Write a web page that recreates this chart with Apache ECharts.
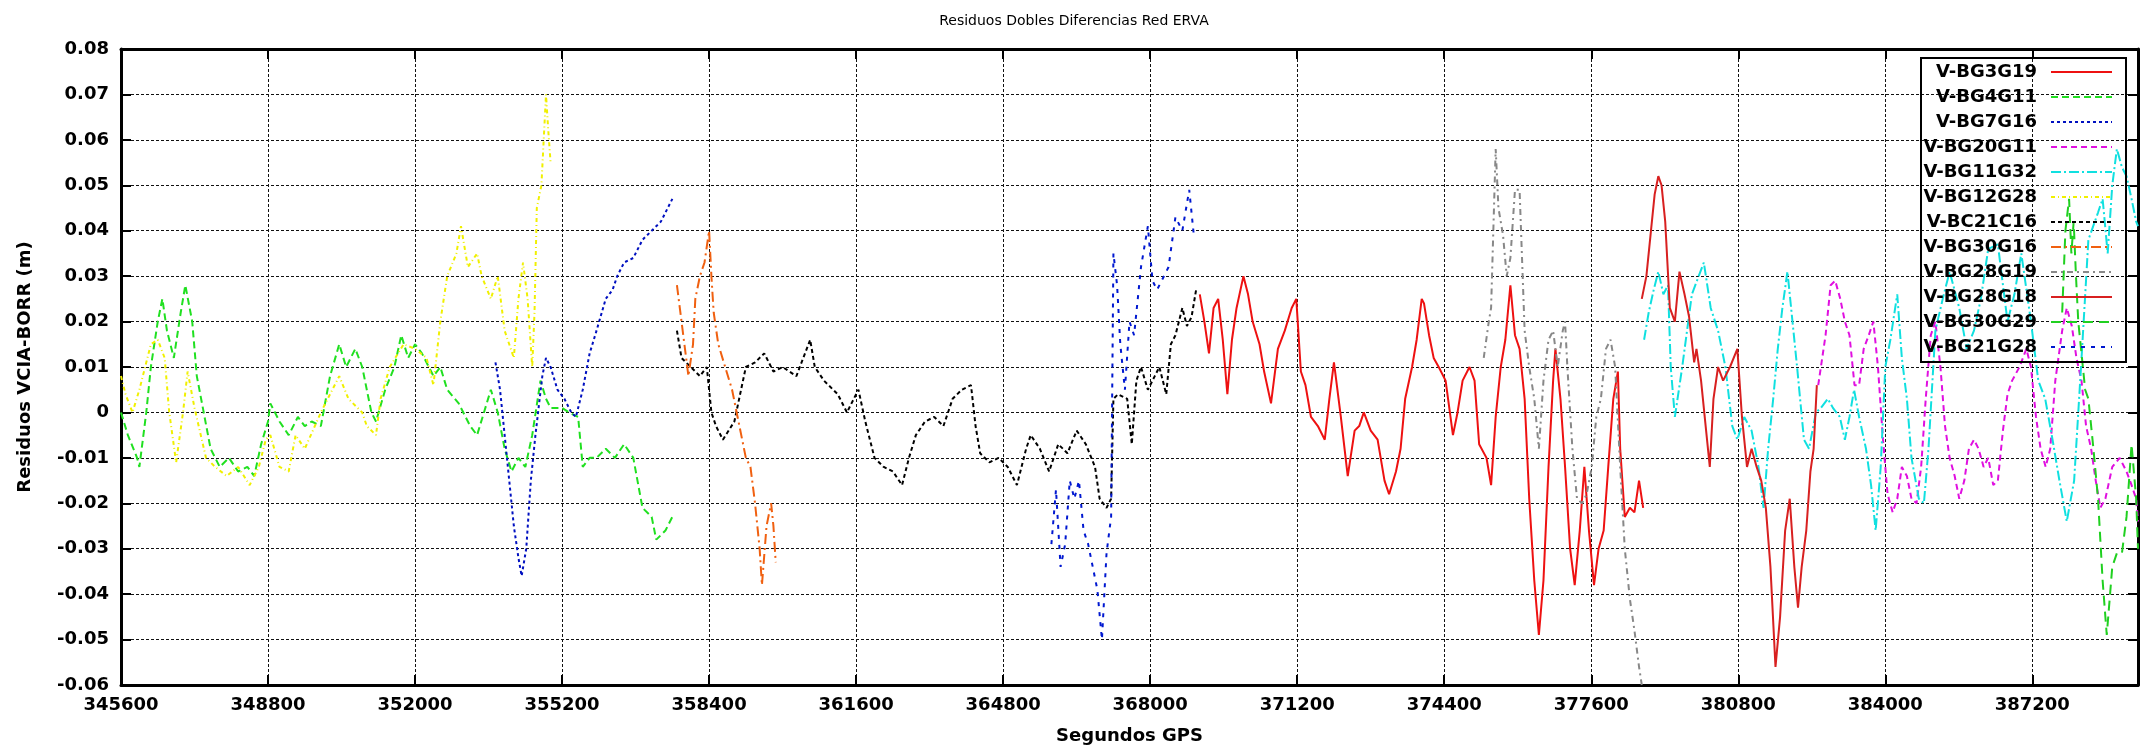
<!DOCTYPE html>
<html>
<head>
<meta charset="utf-8">
<title>Residuos Dobles Diferencias Red ERVA</title>
<script src="https://cdn.jsdelivr.net/npm/echarts/dist/echarts.min.js"></script>
<style>
	html, body { margin: 0; padding: 0; background: #fff; }
	#chart { width: 2148px; height: 753px; }
</style>
</head>
<body>
<div id="chart"></div>
<script>
//ejes
var xTicks = [345600, 348800, 352000, 355200, 358400, 361600, 364800, 368000, 371200, 374400, 377600, 380800, 384000, 387200];
var xMin = 345600, xMax = 389500, xStep = 3200;
var yMin = -0.06, yMax = 0.08, yStep = 0.01;

//nombres de las dobles diferencias (leyenda)
var names = ['V-BG3G19', 'V-BG4G11', 'V-BG7G16', 'V-BG20G11', 'V-BG11G32', 'V-BG12G28',
	'V-BC21C16', 'V-BG30G16', 'V-BG28G19', 'V-BG28G18', 'V-BG30G29', 'V-BG21G28'];

//residuos [segundos GPS, m]
var bg3g19 = [[369080,0.026],[369180,0.020],[369280,0.013],[369380,0.023],[369480,0.025],[369580,0.016],[369680,0.004],[369780,0.016],[369880,0.023],[370030,0.030],[370130,0.026],[370230,0.020],[370380,0.015],[370480,0.009],[370630,0.002],[370780,0.014],[370930,0.018],[371080,0.023],[371180,0.025],[371280,0.009],[371380,0.006],[371500,-0.001],[371650,-0.003],[371800,-0.006],[371900,0.003],[372000,0.011],[372150,-0.001],[372300,-0.014],[372450,-0.004],[372550,-0.003],[372650,0.0],[372800,-0.004],[372950,-0.006],[373100,-0.015],[373200,-0.018],[373350,-0.013],[373450,-0.008],[373550,0.003],[373700,0.010],[373800,0.016],[373910,0.025],[373960,0.024],[374070,0.017],[374170,0.012],[374280,0.010],[374430,0.007],[374590,-0.005],[374690,0.0],[374800,0.007],[374950,0.010],[375060,0.007],[375160,-0.007],[375320,-0.010],[375420,-0.016],[375520,-0.001],[375630,0.010],[375730,0.016],[375840,0.028],[375940,0.017],[376040,0.014],[376150,0.003],[376250,-0.019],[376360,-0.037],[376460,-0.049],[376560,-0.037],[376670,-0.012],[376770,0.007],[376820,0.014],[376930,0.003],[377030,-0.012],[377140,-0.030],[377240,-0.038],[377350,-0.026],[377450,-0.012],[377550,-0.026],[377660,-0.038],[377760,-0.030],[377870,-0.026],[377970,-0.012],[378080,0.003],[378180,0.009],[378230,-0.008],[378330,-0.023],[378440,-0.021],[378540,-0.022],[378640,-0.015],[378730,-0.021]];
var bg4g11 = [[345600,0.0],[345750,-0.005],[345950,-0.010],[346000,-0.012],[346150,0.0],[346250,0.010],[346400,0.020],[346500,0.025],[346600,0.018],[346750,0.012],[346900,0.022],[347000,0.028],[347150,0.020],[347250,0.008],[347400,0.0],[347550,-0.008],[347750,-0.012],[347950,-0.010],[348150,-0.013],[348350,-0.012],[348500,-0.014],[348650,-0.007],[348800,-0.002],[348850,0.002],[349050,-0.002],[349250,-0.005],[349450,-0.001],[349600,-0.003],[349750,-0.002],[349950,-0.003],[350150,0.008],[350350,0.015],[350500,0.010],[350700,0.014],[350850,0.010],[351050,0.0],[351150,-0.002],[351350,0.005],[351550,0.010],[351700,0.017],[351850,0.012],[352000,0.015],[352150,0.013],[352400,0.008],[352550,0.010],[352700,0.005],[352950,0.002],[353200,-0.003],[353350,-0.005],[353500,0.0],[353650,0.005],[353800,0.0],[353950,-0.008],[354100,-0.013],[354250,-0.010],[354400,-0.012],[354550,-0.005],[354730,0.007],[354850,0.003],[354950,0.001],[355200,0.001],[355350,0.0],[355550,-0.001],[355650,-0.012],[355800,-0.010],[355950,-0.010],[356150,-0.008],[356350,-0.010],[356550,-0.007],[356750,-0.010],[356950,-0.021],[357150,-0.023],[357250,-0.028],[357450,-0.026],[357600,-0.023]];
var bg7g16 = [[353750,0.011],[353850,0.005],[353950,-0.005],[354050,-0.015],[354150,-0.025],[354250,-0.032],[354320,-0.036],[354420,-0.030],[354520,-0.015],[354620,-0.005],[354770,0.008],[354850,0.012],[354950,0.010],[355100,0.005],[355250,0.003],[355400,0.0],[355500,-0.001],[355650,0.005],[355800,0.013],[355950,0.018],[356150,0.025],[356300,0.027],[356400,0.030],[356550,0.033],[356750,0.034],[356950,0.038],[357150,0.040],[357350,0.042],[357500,0.045],[357600,0.047]];
var bg20g11 = [[382540,0.006],[382700,0.017],[382810,0.028],[382910,0.029],[383020,0.025],[383120,0.020],[383220,0.017],[383330,0.006],[383430,0.006],[383530,0.014],[383640,0.017],[383740,0.020],[383840,0.010],[383950,-0.006],[384050,-0.018],[384160,-0.022],[384260,-0.019],[384360,-0.012],[384470,-0.014],[384570,-0.019],[384680,-0.020],[384780,-0.012],[384880,0.003],[384990,0.017],[385090,0.020],[385200,0.010],[385300,-0.003],[385400,-0.010],[385510,-0.014],[385610,-0.019],[385720,-0.015],[385820,-0.008],[385930,-0.006],[386030,-0.008],[386140,-0.012],[386240,-0.010],[386350,-0.016],[386450,-0.015],[386560,-0.004],[386660,0.004],[386760,0.007],[386920,0.010],[387070,0.014],[387170,0.010],[387280,-0.001],[387380,-0.008],[387490,-0.012],[387590,-0.008],[387700,0.007],[387850,0.018],[387950,0.023],[388060,0.019],[388160,0.012],[388270,0.007],[388370,-0.003],[388480,-0.008],[388580,-0.015],[388680,-0.021],[388790,-0.019],[388940,-0.012],[389100,-0.010],[389250,-0.013],[389360,-0.016],[389460,-0.019],[389500,-0.024]];
var bg11g32 = [[378750,0.016],[378850,0.022],[378960,0.027],[379060,0.031],[379170,0.026],[379270,0.028],[379330,0.010],[379420,-0.001],[379580,0.010],[379790,0.026],[380050,0.033],[380200,0.023],[380360,0.018],[380520,0.010],[380670,-0.003],[380780,-0.006],[380930,-0.001],[381090,-0.004],[381240,-0.012],[381350,-0.021],[381450,-0.008],[381560,0.003],[381660,0.014],[381760,0.023],[381870,0.031],[381970,0.021],[382080,0.010],[382230,-0.006],[382340,-0.008],[382490,0.0],[382600,0.001],[382750,0.003],[382860,0.001],[383010,-0.001],[383120,-0.006],[383220,-0.001],[383320,0.005],[383430,-0.001],[383580,-0.008],[383690,-0.016],[383790,-0.026],[383900,-0.012],[384000,0.010],[384110,0.016],[384260,0.026],[384360,0.012],[384470,0.003],[384570,-0.010],[384730,-0.019],[384840,-0.020],[384940,-0.008],[385090,0.018],[385250,0.025],[385400,0.031],[385610,0.023],[385770,0.014],[385930,0.018],[386080,0.025],[386240,0.036],[386450,0.037],[386660,0.020],[386810,0.026],[386960,0.035],[387170,0.020],[387330,0.007],[387480,0.003],[387640,-0.006],[387790,-0.015],[387950,-0.024],[388110,-0.015],[388260,0.010],[388420,0.038],[388630,0.044],[388730,0.047],[388840,0.035],[388940,0.050],[389040,0.058],[389150,0.054],[389250,0.052],[389360,0.047],[389460,0.042],[389500,0.041]];
var bg12g28 = [[345600,0.008],[345700,0.004],[345850,0.0],[346000,0.005],[346250,0.015],[346400,0.016],[346550,0.012],[346650,0.0],[346800,-0.011],[346950,0.0],[347050,0.009],[347200,0.001],[347450,-0.010],[347650,-0.012],[347900,-0.014],[348150,-0.012],[348400,-0.016],[348600,-0.012],[348750,-0.006],[348850,-0.005],[349050,-0.012],[349250,-0.013],[349400,-0.005],[349600,-0.008],[349950,0.0],[350200,0.005],[350350,0.008],[350550,0.003],[350850,0.0],[350950,-0.003],[351150,-0.005],[351250,0.003],[351450,0.010],[351750,0.015],[352000,0.014],[352250,0.012],[352400,0.006],[352550,0.020],[352700,0.030],[352900,0.035],[353000,0.041],[353150,0.032],[353350,0.035],[353450,0.030],[353650,0.025],[353800,0.030],[353950,0.018],[354150,0.012],[354250,0.025],[354350,0.033],[354450,0.025],[354550,0.010],[354600,0.022],[354650,0.045],[354750,0.050],[354850,0.070],[354900,0.062],[354950,0.055]];
var bg21g16 = [[357700,0.018],[357800,0.012],[358000,0.010],[358200,0.008],[358350,0.010],[358450,0.0],[358550,-0.003],[358700,-0.006],[358950,-0.002],[359200,0.010],[359400,0.011],[359600,0.013],[359800,0.009],[360000,0.010],[360300,0.008],[360600,0.016],[360700,0.010],[360900,0.007],[361200,0.004],[361400,0.0],[361650,0.005],[361800,-0.002],[362000,-0.010],[362200,-0.012],[362400,-0.013],[362600,-0.016],[362750,-0.010],[362900,-0.005],[363100,-0.002],[363300,-0.001],[363500,-0.003],[363700,0.003],[363900,0.005],[364100,0.006],[364200,-0.003],[364300,-0.009],[364500,-0.011],[364700,-0.010],[364900,-0.012],[365100,-0.016],[365300,-0.008],[365400,-0.005],[365600,-0.008],[365800,-0.013],[366000,-0.007],[366200,-0.009],[366400,-0.004],[366600,-0.007],[366800,-0.012],[366900,-0.019],[367050,-0.021],[367150,-0.019],[367200,0.003],[367300,0.004],[367500,0.003],[367600,-0.007],[367700,0.007],[367800,0.010],[367950,0.005],[368100,0.008],[368200,0.010],[368350,0.004],[368450,0.015],[368550,0.017],[368700,0.023],[368800,0.019],[368900,0.021],[369000,0.027]];
var bg30g16 = [[357700,0.028],[357800,0.020],[357950,0.008],[358050,0.015],[358100,0.025],[358200,0.030],[358300,0.033],[358400,0.040],[358450,0.030],[358500,0.022],[358600,0.015],[358750,0.010],[358900,0.005],[359100,-0.005],[359200,-0.010],[359300,-0.012],[359400,-0.020],[359500,-0.030],[359550,-0.038],[359650,-0.025],[359750,-0.020],[359800,-0.025],[359850,-0.033]];
var bg28g19 = [[375260,0.012],[375370,0.020],[375420,0.023],[375520,0.058],[375580,0.045],[375680,0.039],[375760,0.030],[375840,0.034],[375940,0.049],[376040,0.049],[376150,0.018],[376250,0.010],[376360,0.003],[376460,-0.008],[376560,0.007],[376670,0.016],[376770,0.018],[376870,0.010],[376980,0.018],[377030,0.020],[377080,0.010],[377190,-0.008],[377290,-0.019],[377400,-0.020],[377500,-0.018],[377610,-0.012],[377710,-0.001],[377810,0.003],[377920,0.014],[378020,0.016],[378120,0.010],[378230,-0.012],[378330,-0.030],[378440,-0.041],[378540,-0.048],[378640,-0.056],[378700,-0.060]];
var bg28g18 = [[378700,0.025],[378800,0.030],[378900,0.040],[378980,0.048],[379060,0.052],[379130,0.050],[379210,0.042],[379310,0.023],[379420,0.020],[379520,0.031],[379630,0.026],[379730,0.021],[379840,0.011],[379890,0.014],[379990,0.007],[380100,-0.004],[380180,-0.012],[380260,0.003],[380360,0.010],[380470,0.007],[380620,0.010],[380780,0.014],[380880,-0.001],[380990,-0.012],[381090,-0.008],[381200,-0.012],[381300,-0.015],[381400,-0.021],[381500,-0.034],[381610,-0.056],[381710,-0.045],[381820,-0.026],[381920,-0.019],[382020,-0.034],[382100,-0.043],[382180,-0.034],[382280,-0.026],[382370,-0.013],[382440,-0.008],[382510,0.006]];
var bg30g29 = [[387850,0.022],[387920,0.040],[388000,0.047],[388050,0.035],[388100,0.042],[388150,0.030],[388200,0.020],[388280,0.012],[388350,0.005],[388420,0.003],[388530,-0.008],[388630,-0.019],[388730,-0.037],[388820,-0.049],[388940,-0.034],[389040,-0.031],[389150,-0.031],[389250,-0.023],[389360,-0.007],[389460,-0.019],[389500,-0.030]];
var bg21g28 = [[365850,-0.029],[365950,-0.017],[366050,-0.034],[366150,-0.029],[366250,-0.015],[366350,-0.019],[366450,-0.015],[366550,-0.026],[366650,-0.029],[366750,-0.034],[366850,-0.039],[366950,-0.050],[367050,-0.031],[367150,-0.023],[367200,0.035],[367280,0.028],[367350,0.015],[367450,0.005],[367550,0.020],[367650,0.017],[367800,0.032],[367950,0.041],[368050,0.029],[368150,0.027],[368250,0.029],[368400,0.032],[368550,0.043],[368700,0.040],[368850,0.049],[368950,0.039]];

var datos = [bg3g19, bg4g11, bg7g16, bg20g11, bg11g32, bg12g28, bg21g16, bg30g16, bg28g19, bg28g18, bg30g29, bg21g28];
//colores y tipos de linea estilo gnuplot
var colores = ['#ee1111', '#20e020', '#0010c0', '#e010e0', '#10e0e0', '#f0f000', '#000000', '#f06010', '#888888', '#d82020', '#20d020', '#0018d0'];
var tipos = ['solid', [7, 4], [3, 3], [6, 4], [10, 3, 2, 3], [4, 3, 1, 3], [4, 3], [10, 4, 2, 4], [6, 4, 2, 4], 'solid', [10, 6], [4, 6]];

var fuente = 'DejaVu Sans';

var series = [];
for(var i = 0; i < datos.length; i++) {
	series.push({
		name: names[i],
		type: 'line',
		data: datos[i],
		symbol: 'none',
		showSymbol: false,
		animation: false,
		lineStyle: {
			color: colores[i],
			width: 2,
			type: tipos[i]
		},
		itemStyle: {
			color: colores[i]
		}
	});
}

var ejeX = {
	type: 'value',
	min: xMin,
	max: xMax,
	interval: xStep,
	axisLine: { onZero: false, lineStyle: { color: '#000', width: 3 } },
	axisTick: { inside: true, length: 10, lineStyle: { color: '#000', width: 2 } }
};
var ejeY = {
	type: 'value',
	min: yMin,
	max: yMax,
	interval: yStep,
	axisLine: { onZero: false, lineStyle: { color: '#000', width: 3 } },
	axisTick: { inside: true, length: 10, lineStyle: { color: '#000', width: 2 } }
};

var option = {
	backgroundColor: '#fff',
	animation: false,
	title: {
		text: 'Residuos Dobles Diferencias Red ERVA',
		left: 'center',
		top: 9,
		textStyle: { fontFamily: fuente, fontSize: 14, fontWeight: 'normal', color: '#000' }
	},
	grid: {
		left: 121,
		right: 10,
		top: 49,
		bottom: 68
	},
	legend: {
		orient: 'vertical',
		right: 22,
		top: 58,
		align: 'right',
		padding: [5, 13, 6, 2],
		itemGap: 7,
		itemWidth: 61,
		itemHeight: 14,
		borderColor: '#000',
		borderWidth: 2,
		selectedMode: false,
		data: names,
		itemStyle: { opacity: 0 },
		formatter: function(name) {
			return '{n|' + name + '}';
		},
		textStyle: {
			rich: {
				n: {
					width: 114,
					align: 'right',
					lineHeight: 14,
					padding: [0, 9, 0, 0],
					fontFamily: fuente,
					fontSize: 18,
					fontWeight: 'bold',
					color: '#000'
				}
			}
		}
	},
	xAxis: [
		Object.assign({}, ejeX, {
			position: 'bottom',
			name: 'Segundos GPS',
			nameLocation: 'middle',
			nameGap: 42,
			nameTextStyle: { fontFamily: fuente, fontSize: 18, fontWeight: 'bold', color: '#000' },
			axisLabel: {
				margin: 11,
				showMaxLabel: false,
				formatter: function(v) { return String(v); },
				fontFamily: fuente, fontSize: 18, fontWeight: 'bold', color: '#000'
			},
			splitLine: { show: true, lineStyle: { color: '#111', width: 1, type: [3, 2] } }
		}),
		Object.assign({}, ejeX, {
			position: 'top',
			axisLabel: { show: false },
			splitLine: { show: false }
		})
	],
	yAxis: [
		Object.assign({}, ejeY, {
			position: 'left',
			name: 'Residuos VCIA-BORR (m)',
			nameLocation: 'middle',
			nameGap: 87,
			nameTextStyle: { fontFamily: fuente, fontSize: 18, fontWeight: 'bold', color: '#000' },
			axisLabel: {
				margin: 12,
				fontFamily: fuente, fontSize: 18, fontWeight: 'bold', color: '#000'
			},
			splitLine: { show: true, lineStyle: { color: '#111', width: 1, type: [3, 2] } }
		}),
		Object.assign({}, ejeY, {
			position: 'right',
			axisLabel: { show: false },
			splitLine: { show: false }
		})
	],
	series: series
};

var chart = echarts.init(document.getElementById('chart'));
chart.setOption(option);
</script>
</body>
</html>
